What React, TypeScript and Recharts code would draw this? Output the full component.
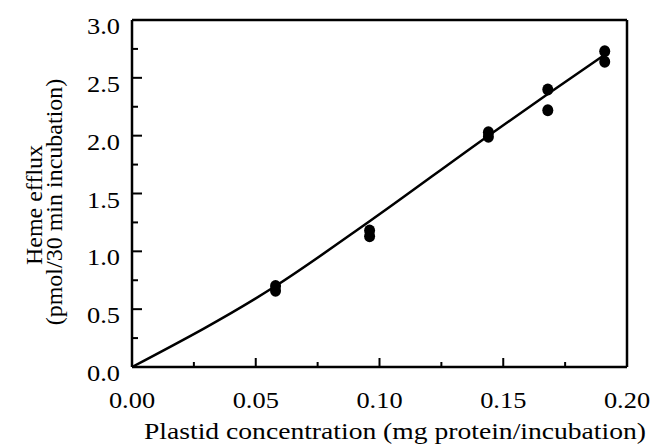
import { ComposedChart, Line, Scatter, XAxis, YAxis, ReferenceLine, Label } from 'recharts';

// measured heme efflux, duplicate incubations per plastid concentration
const pointX = [0.058, 0.058, 0.096, 0.096, 0.144, 0.144, 0.168, 0.168, 0.191, 0.191];
const pointY = [0.7, 0.66, 1.18, 1.13, 2.03, 1.99, 2.4, 2.22, 2.73, 2.64];

// hand-drawn fit curve through the origin
const fitX = [0, 0.058, 0.096, 0.144, 0.168, 0.191];
const fitY = [0, 0.7, 1.26, 2.0, 2.36, 2.7];

const xTicks = [0, 0.025, 0.05, 0.075, 0.1, 0.125, 0.15, 0.175, 0.2];
const xLabels = ['0.00', '', '0.05', '', '0.10', '', '0.15', '', '0.20'];
const yTicks = [0, 0.25, 0.5, 0.75, 1, 1.25, 1.5, 1.75, 2, 2.25, 2.5, 2.75, 3];
const yLabels = ['0.0', '', '0.5', '', '1.0', '', '1.5', '', '2.0', '', '2.5', '', '3.0'];

const xTitle = 'Plastid concentration (mg protein/incubation)';
const yTitle1 = 'Heme efflux';
const yTitle2 = '(pmol/30 min incubation)';

const textStyle = { fontFamily: '"Liberation Serif", serif', fontSize: 24, fill: '#000' };

const points = pointX.map((x, i) => ({ x, y: pointY[i] }));
const fit = fitX.map((x, i) => ({ x, y: fitY[i] }));

function XTick(props: any) {
  const { x, y, payload } = props;
  const i = xTicks.indexOf(payload.value);
  const label = xLabels[i] || '';
  const len = label ? 9 : 5;
  return (
    <g>
      <line x1={x} x2={x} y1={y} y2={y - len} stroke="#000" strokeWidth={2} />
      {label && (
        <text transform={`translate(${x},${y + 41}) scale(1.1,1)`} textAnchor="middle" style={textStyle}>
          {label}
        </text>
      )}
    </g>
  );
}

function YTick(props: any) {
  const { x, y, payload } = props;
  const i = yTicks.indexOf(payload.value);
  const label = yLabels[i] || '';
  const len = label ? 10 : 6;
  return (
    <g>
      <line x1={x} x2={x + len} y1={y} y2={y} stroke="#000" strokeWidth={2} />
      {label && (
        <text transform={`translate(${x - 12},${y + 14}) scale(1.1,1)`} textAnchor="end" style={textStyle}>
          {label}
        </text>
      )}
    </g>
  );
}

export default function App() {
  return (
    <div style={{ position: 'absolute', left: 0, top: 0, background: '#fff' }}>
      <ComposedChart width={654} height={446} margin={{ top: 20, right: 27, bottom: 0, left: 0 }}>
        <XAxis
          dataKey="x"
          type="number"
          domain={[0, 0.2]}
          ticks={xTicks}
          interval={0}
          tick={<XTick />}
          tickLine={false}
          tickSize={0}
          tickMargin={0}
          height={79}
          axisLine={{ stroke: '#000', strokeWidth: 2.5 }}
        >
          <Label
            content={() => (
              <text transform="translate(395,439) scale(1.15,1)" textAnchor="middle" style={textStyle}>
                {xTitle}
              </text>
            )}
          />
        </XAxis>
        <YAxis
          dataKey="y"
          type="number"
          domain={[0, 3]}
          ticks={yTicks}
          interval={0}
          tick={<YTick />}
          tickLine={false}
          tickSize={0}
          tickMargin={0}
          width={132}
          axisLine={{ stroke: '#000', strokeWidth: 2.5 }}
        >
          <Label
            content={() => (
              <g>
                <text transform="translate(42,205) rotate(-90)" textAnchor="middle" style={textStyle}>
                  {yTitle1}
                </text>
                <text transform="translate(62,202) rotate(-90)" textAnchor="middle" style={textStyle}>
                  {yTitle2}
                </text>
              </g>
            )}
          />
        </YAxis>
        <ReferenceLine y={3} stroke="#000" strokeWidth={2.5} />
        <ReferenceLine x={0.2} stroke="#000" strokeWidth={2.5} />
        <Line
          data={fit}
          dataKey="y"
          type="monotone"
          stroke="#000"
          strokeWidth={2.5}
          dot={false}
          activeDot={false}
          isAnimationActive={false}
        />
        <Scatter
          data={points}
          dataKey="y"
          fill="#000"
          shape={(p: any) => <ellipse cx={p.cx} cy={p.cy} rx={5.5} ry={6} fill="#000" />}
          isAnimationActive={false}
        />
      </ComposedChart>
    </div>
  );
}
